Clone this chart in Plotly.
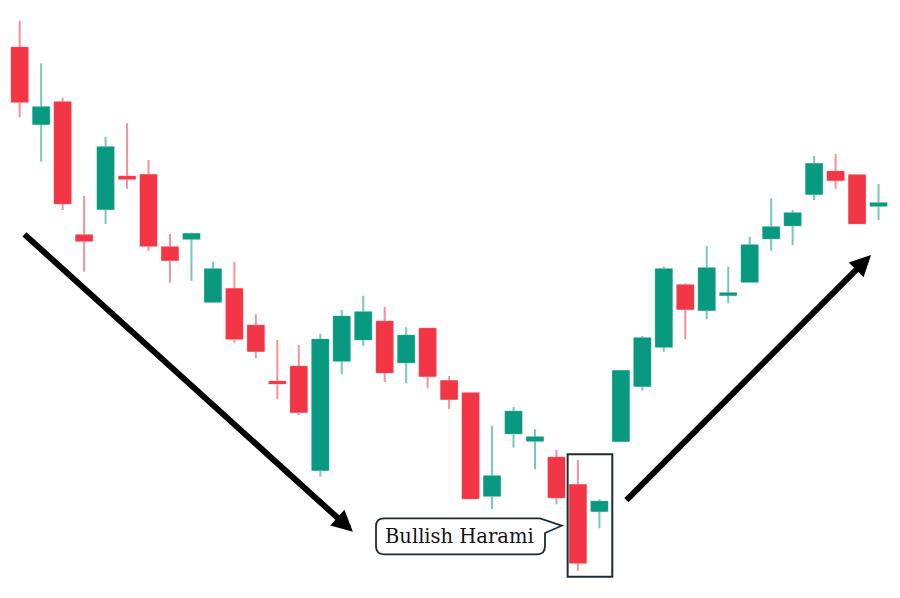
import plotly.graph_objects as go

# Candle index (session number)
session = list(range(41))

# OHLC values (price units)
open_ = [552.3, 476.0, 497.7, 364.7, 391.0, 423.3, 425.0, 352.7, 361.3, 298.3,
         311.0, 274.3, 218.3, 233.3, 130.0, 239.3, 260.7, 278.3, 237.7, 271.3,
         219.0, 206.7, 104.3, 166.7, 159.3, 142.3, 115.0, 89.0, 159.0, 214.0,
         253.3, 314.7, 290.0, 305.0, 318.3, 361.7, 374.7, 406.0, 428.3, 424.7,
         394.3]
high = [579.3, 536.7, 502.3, 404.0, 463.3, 476.7, 440.0, 366.0, 367.3, 338.3,
        338.3, 285.7, 260.0, 255.0, 266.3, 290.0, 304.3, 293.3, 272.7, 271.3,
        224.0, 207.0, 174.3, 193.3, 170.7, 150.0, 140.0, 100.7, 230.0, 264.0,
        333.3, 316.7, 354.0, 333.3, 363.3, 401.7, 390.0, 444.0, 446.0, 425.0,
        416.0]
low = [482.7, 438.3, 390.0, 328.3, 376.0, 411.3, 349.3, 317.3, 319.3, 298.0,
       257.3, 241.7, 201.0, 185.0, 123.3, 225.7, 254.3, 218.0, 216.7, 211.7,
       191.0, 100.7, 91.0, 152.3, 130.7, 95.7, 29.3, 71.7, 158.0, 209.3,
       248.3, 260.7, 280.7, 296.7, 317.3, 349.3, 354.7, 400.0, 411.3, 376.5,
       380.0]
close = [498.3, 492.7, 396.7, 359.3, 452.7, 421.3, 354.3, 340.0, 366.0, 330.7,
         261.3, 249.0, 216.7, 188.0, 260.3, 283.3, 287.7, 227.7, 264.3, 224.0,
         201.0, 101.7, 123.7, 188.3, 162.7, 102.7, 37.3, 98.3, 229.0, 261.7,
         330.7, 291.0, 331.7, 306.7, 354.7, 372.7, 386.7, 436.0, 420.0, 376.7,
         396.7]

body_hi = [max(o, c) for o, c in zip(open_, close)]
body_lo = [min(o, c) for o, c in zip(open_, close)]

UP = "#089981"
DOWN = "#F23645"
UP_WICK = "rgba(8,153,129,0.55)"
DOWN_WICK = "rgba(242,54,69,0.55)"

fig = go.Figure()
# wicks (light)
fig.add_trace(go.Candlestick(
    x=session, open=open_, high=high, low=low, close=close,
    increasing=dict(line=dict(color=UP_WICK, width=2), fillcolor=UP_WICK),
    decreasing=dict(line=dict(color=DOWN_WICK, width=2), fillcolor=DOWN_WICK),
    hoverinfo="skip", showlegend=False))
# bodies (solid)
fig.add_trace(go.Candlestick(
    x=session, open=open_, high=body_hi, low=body_lo, close=close,
    increasing=dict(line=dict(color=UP, width=1), fillcolor=UP),
    decreasing=dict(line=dict(color=DOWN, width=1), fillcolor=DOWN),
    hoverinfo="skip", showlegend=False))

W, H = 900, 598
def px(xp):  # pixel -> paper x
    return xp / W
def py(yp):  # pixel -> paper y
    return 1 - yp / H

NAVY = "#1b2b3a"

# Harami highlight box (around candles 27-28)
fig.add_shape(type="rect", xref="x", yref="y", x0=25.52, x1=27.6, y0=23.3, y1=145.7,
              line=dict(color=NAVY, width=2), fillcolor="rgba(0,0,0,0)")

# Callout bubble
pts = [
    ("M", 384, 518.3), ("L", 540, 518.3), ("L", 561.7, 525.7), ("L", 545, 533),
    ("L", 545, 546.3), ("Q", 545, 554.3, 537, 554.3), ("L", 384, 554.3),
    ("Q", 376, 554.3, 376, 546.3), ("L", 376, 526.3), ("Q", 376, 518.3, 384, 518.3)]
path = ""
for p in pts:
    if p[0] == "Q":
        path += f"Q{px(p[1]):.5f},{py(p[2]):.5f} {px(p[3]):.5f},{py(p[4]):.5f} "
    else:
        path += f"{p[0]}{px(p[1]):.5f},{py(p[2]):.5f} "
path += "Z"
fig.add_shape(type="path", xref="paper", yref="paper", path=path,
              line=dict(color=NAVY, width=1.8), fillcolor="white")
fig.add_annotation(xref="paper", yref="paper", x=px(459), y=py(536.5),
                   text="Bullish Harami", showarrow=False,
                   font=dict(family="DejaVu Serif", size=19.5, color="#111111"),
                   xanchor="center", yanchor="middle")

# Trend arrows
fig.add_annotation(x=15.52, y=68.3, ax=0.154, ay=367, xref="x", yref="y", axref="x", ayref="y",
                   text="", showarrow=True, arrowhead=2, arrowsize=0.7, arrowwidth=6,
                   arrowcolor="black", standoff=0)
fig.add_annotation(x=39.65, y=345, ax=28.19, ay=98.3, xref="x", yref="y", axref="x", ayref="y",
                   text="", showarrow=True, arrowhead=2, arrowsize=0.7, arrowwidth=6,
                   arrowcolor="black", standoff=0)

fig.update_layout(
    width=W, height=H, margin=dict(l=0, r=0, t=0, b=0),
    paper_bgcolor="white", plot_bgcolor="white",
    boxgap=0.1, boxgroupgap=0.17, boxmode="overlay",
    showlegend=False, hovermode=False,
    xaxis=dict(range=[-0.917, 41.0], visible=False, rangeslider=dict(visible=False), fixedrange=True),
    yaxis=dict(range=[2, 600], visible=False, fixedrange=True),
)
fig.write_html("out.html", config={"displayModeBar": False},
               post_script="document.body.style.margin='0px';document.body.style.overflow='hidden';")
